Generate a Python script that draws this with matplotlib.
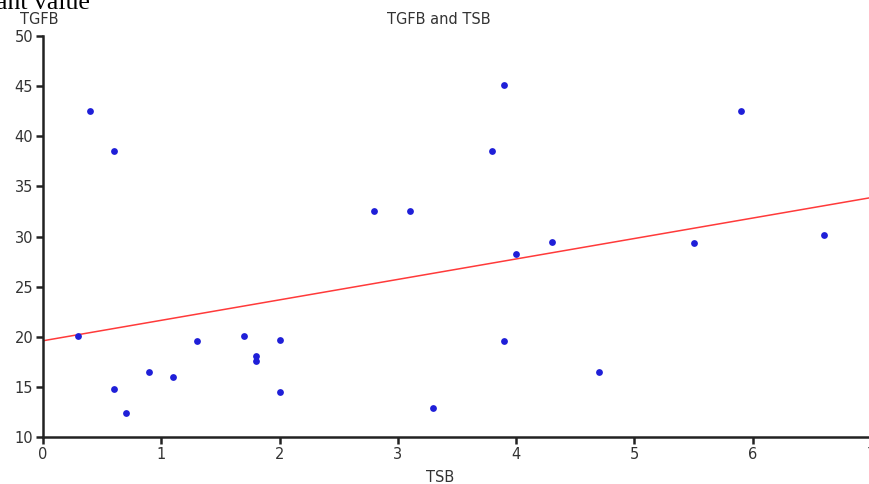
import numpy as np
import matplotlib.pyplot as plt

# TSB vs TGFB readings
tsb = [0.3, 0.4, 0.6, 0.6, 0.7, 0.9, 1.1, 1.3, 1.7, 1.8, 1.8, 2.0, 2.0,
       2.8, 3.1, 3.3, 3.8, 3.9, 3.9, 4.0, 4.3, 4.7, 5.5, 5.9, 6.6]
tgfb = [20.1, 42.5, 38.5, 14.8, 12.4, 16.5, 16.0, 19.6, 20.1, 18.1, 17.6, 19.7, 14.5,
        32.5, 32.5, 12.9, 38.5, 45.1, 19.6, 28.3, 29.5, 16.5, 29.4, 42.5, 30.1]

# fitted line as drawn
fit_intercept = 19.6
fit_slope = 2.04

xticks = [0, 1, 2, 3, 4, 5, 6, 7]
yticks = [10, 15, 20, 25, 30, 35, 40, 45, 50]

W, H = 869, 484
fig = plt.figure(figsize=(W / 100, H / 100), dpi=100)
ax = fig.add_axes([43 / W, 47 / H, 828 / W, 401 / H])

ax.scatter(tsb, tgfb, s=24, color="#1f1fd8", zorder=3, linewidths=0)
xs = np.array([0, 7])
ax.plot(xs, fit_intercept + fit_slope * xs, color="#ff3a3a", lw=1.1, zorder=2)

ax.set_xlim(0, 7)
ax.set_ylim(10, 50)
ax.set_xticks(xticks)
ax.set_yticks(yticks)
for s in ["top", "right"]:
    ax.spines[s].set_visible(False)
for s in ["left", "bottom"]:
    ax.spines[s].set_linewidth(1.8)
    ax.spines[s].set_color("#222222")
ax.tick_params(direction="out", length=5, width=1.8, color="#222222",
               labelsize=10.5, labelcolor="#333333", pad=2)
for lab in ax.get_xticklabels() + ax.get_yticklabels():
    lab.set_family("DejaVu Sans")

fig.text(20 / W, 1 - 20 / H, "TGFB", fontsize=10.5, family="DejaVu Sans",
         color="#333333", va="center", ha="left")
fig.text(439 / W, 1 - 20 / H, "TGFB and TSB", fontsize=10.5, family="DejaVu Sans",
         color="#333333", va="center", ha="center")
fig.text(440 / W, 1 - 477 / H, "TSB", fontsize=10.5, family="DejaVu Sans",
         color="#333333", va="center", ha="center")
fig.text(-4 / W, 1 - 9 / H, "ant value", fontsize=18.5, family="Liberation Serif",
         color="black", va="baseline", ha="left")

fig.savefig("out.png", dpi=100)
